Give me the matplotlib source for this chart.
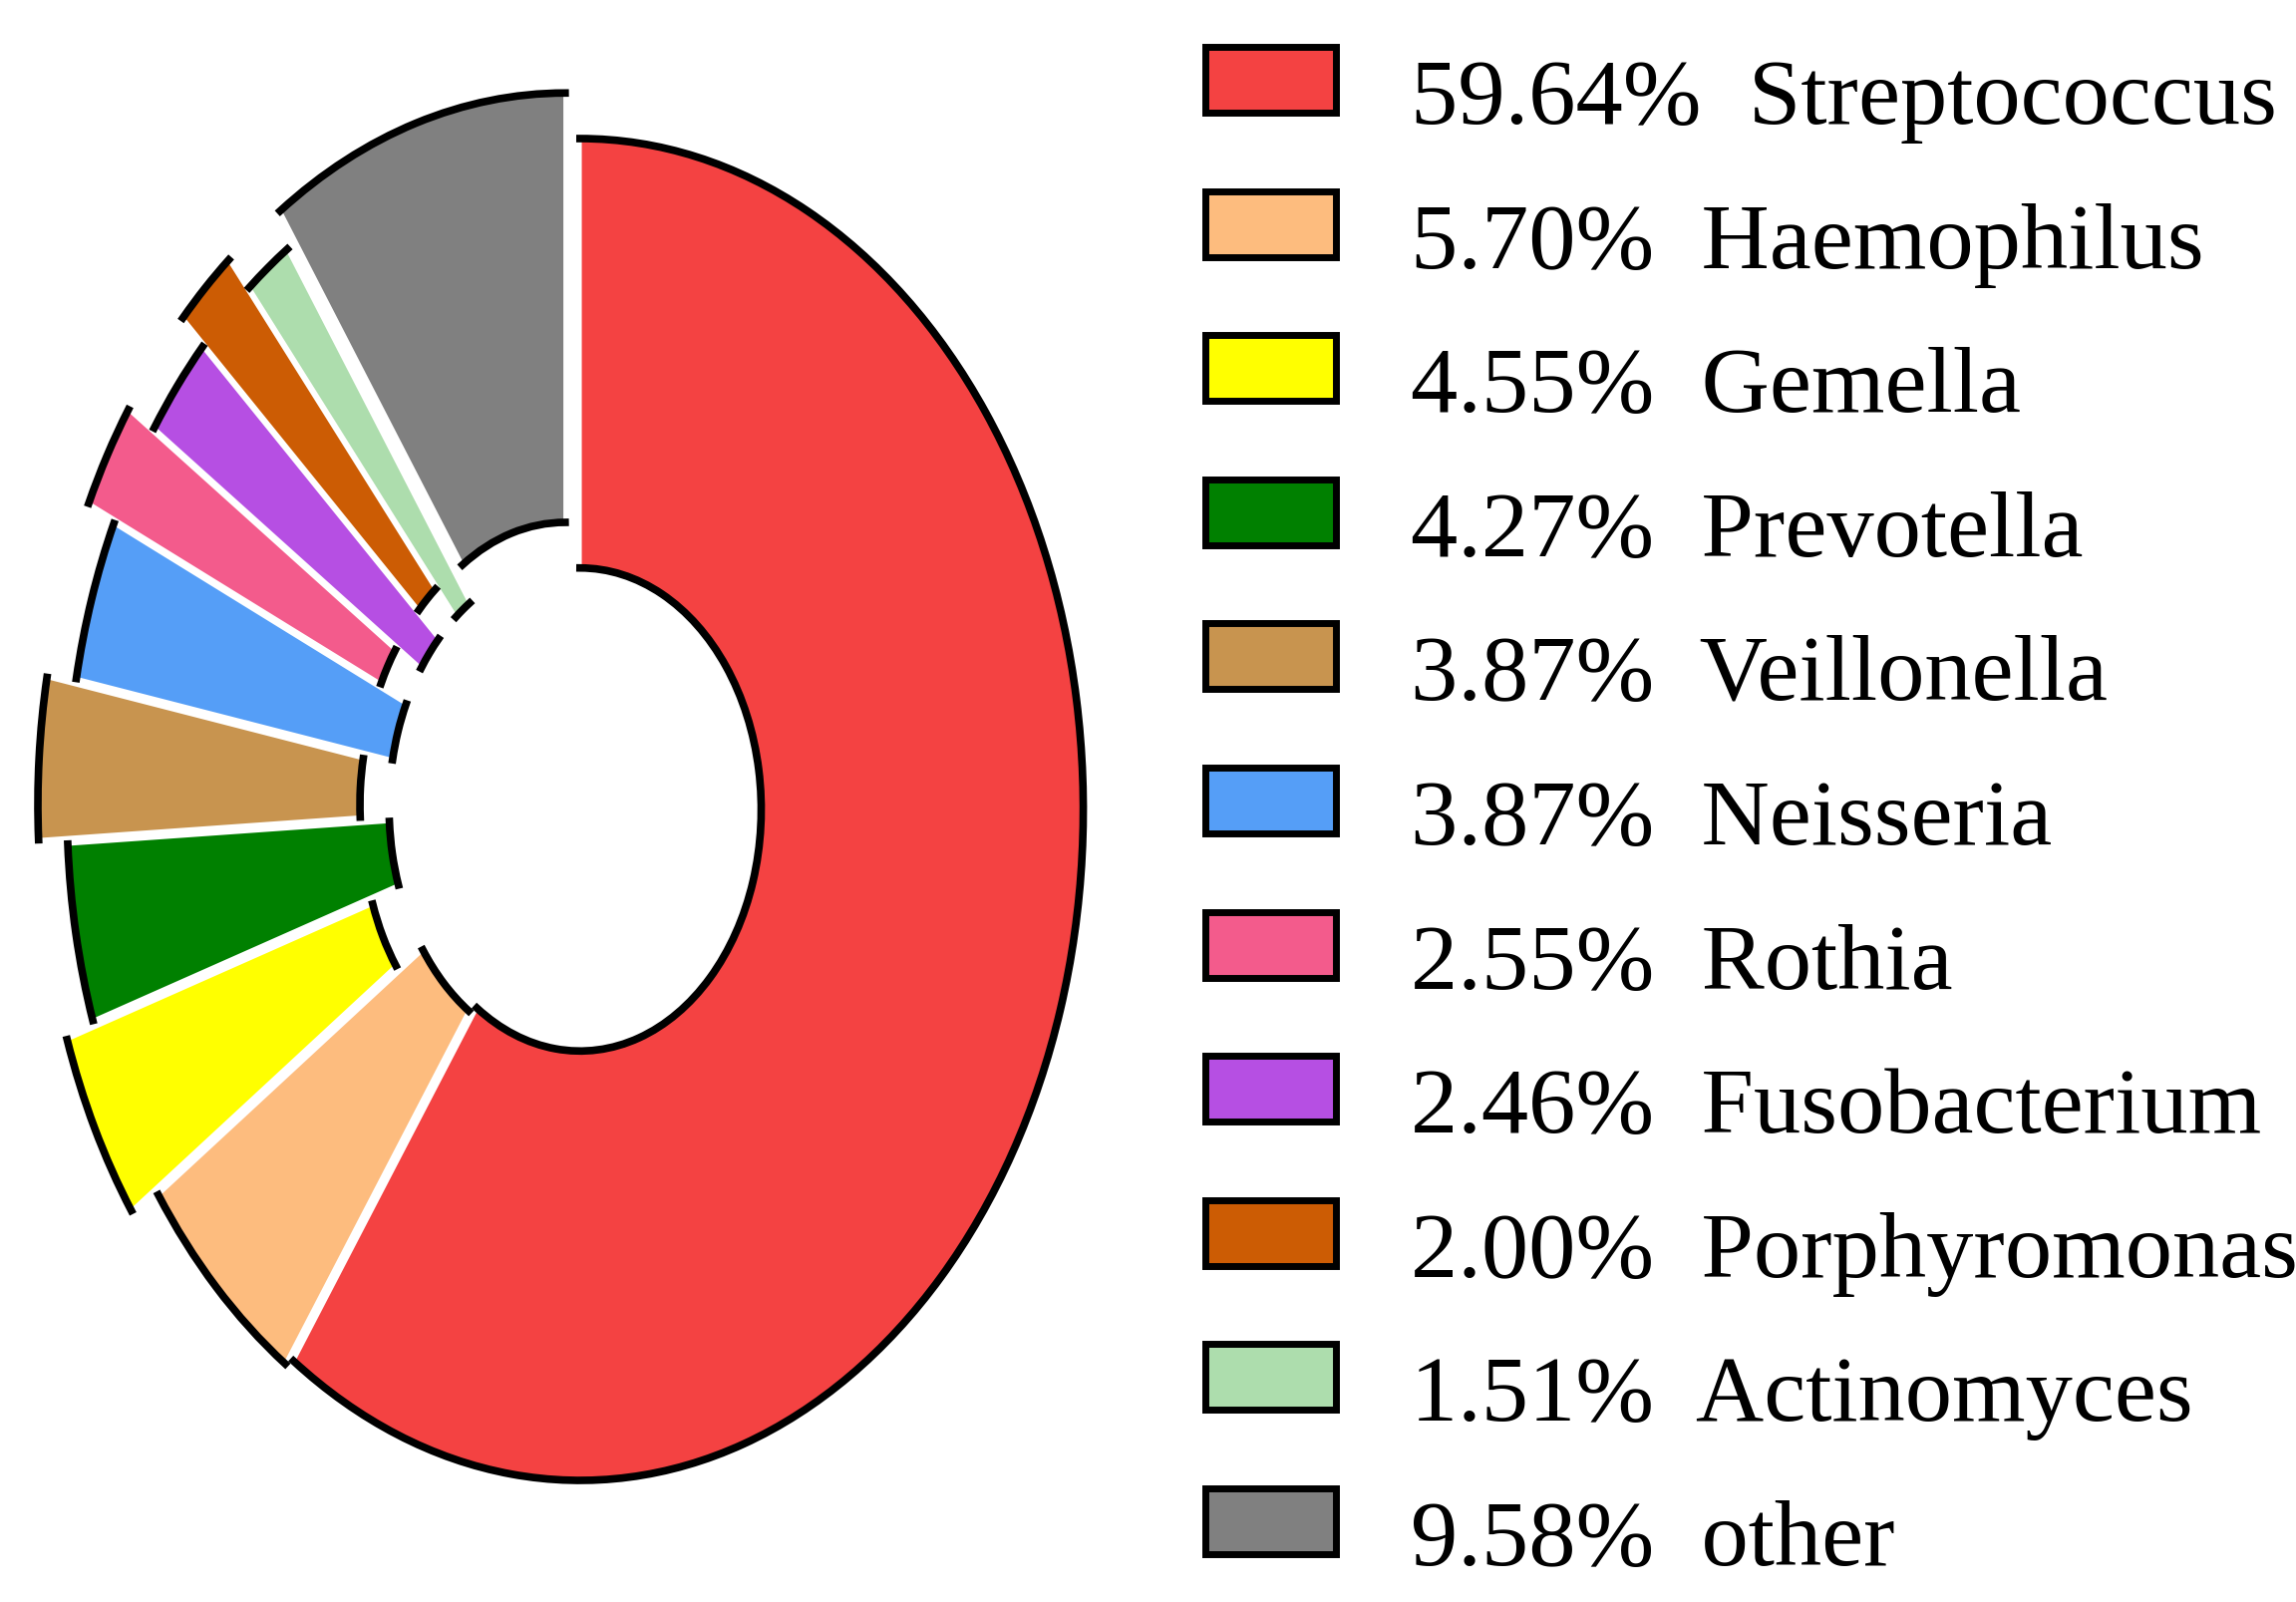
import matplotlib
matplotlib.use("Agg")
import matplotlib.pyplot as plt
from matplotlib.patches import Arc, Rectangle

genera = ['Streptococcus', 'Haemophilus', 'Gemella', 'Prevotella', 'Veillonella',
          'Neisseria', 'Rothia', 'Fusobacterium', 'Porphyromonas', 'Actinomyces', 'other']
percent = [59.64, 5.70, 4.55, 4.27, 3.87, 3.87, 2.55, 2.46, 2.00, 1.51, 9.58]

colors = ['#F44242', '#FDBC7E', '#FFFF00', '#008000', '#C8944F', '#559EF7',
          '#F35B8C', '#B64FE3', '#CC5C04', '#ADDDAD', '#808080']
# every other slice is pushed further out
explode = [0.010, 0.010, 0.068, 0.010, 0.068, 0.010, 0.068, 0.010, 0.068, 0.010, 0.068]

W, H = 2303, 1607
fig = plt.figure(figsize=(W / 100, H / 100), dpi=100)
ax = fig.add_axes([0, 0, 1, 1])

wedges, _ = ax.pie(percent, colors=colors, explode=explode, startangle=90,
                   counterclock=False, radius=1.0,
                   wedgeprops=dict(width=0.64, edgecolor='white', linewidth=2.5))

# black strokes only on the curved edges
for w in wedges:
    for r in (w.r, w.r - w.width):
        ax.add_patch(Arc(w.center, 2 * r, 2 * r, theta1=w.theta1, theta2=w.theta2,
                         color='black', lw=5.5, capstyle='projecting', zorder=3))

# donut is squeezed sideways like the original picture
cx, cy = 577, 810      # centre in pixels from left / top
sy = 673               # pixels per unit vertically
sx = 0.75 * sy
ax.set_aspect('auto')
ax.set_xlim(-cx / sx, (W - cx) / sx)
ax.set_ylim(-(H - cy) / sy, cy / sy)
ax.axis('off')

# legend
for i, (name, p, c) in enumerate(zip(genera, percent, colors)):
    yc = 80 + 144.6 * i
    fig.add_artist(Rectangle((1209 / W, 1 - (yc + 33) / H), 131 / W, 66 / H,
                             transform=fig.transFigure, facecolor=c,
                             edgecolor='black', lw=5))
    fig.text(1415 / W, 1 - (yc + 44) / H, f'{p:.2f}%  {name}', fontsize=68,
             family='Liberation Serif', va='baseline', ha='left')

fig.savefig('out.png', dpi=100)
